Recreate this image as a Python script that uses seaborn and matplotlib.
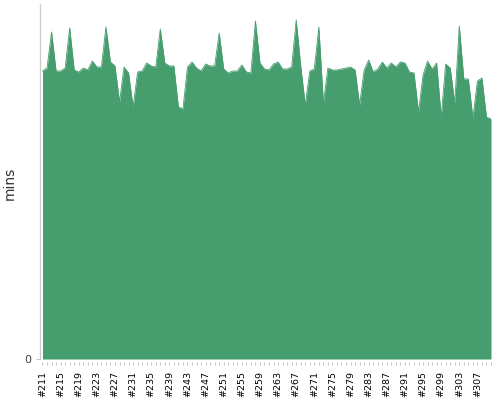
import numpy as np
import pandas as pd
import matplotlib
matplotlib.use('Agg')
import matplotlib.pyplot as plt
import seaborn as sns
from matplotlib.ticker import MultipleLocator

# build numbers and durations
builds = list(range(211, 311))
mins = [28.8, 29.1, 32.7, 28.8, 28.8, 29.1, 33.1, 28.9, 28.7, 29.1,
        28.9, 29.8, 29.2, 29.2, 33.2, 29.7, 29.3, 25.7, 29.2, 28.6,
        25.2, 28.7, 28.8, 29.6, 29.3, 29.2, 33.0, 29.6, 29.3, 29.3,
        25.2, 25.0, 29.2, 29.7, 29.1, 28.8, 29.5, 29.3, 29.3, 32.6,
        29.0, 28.6, 28.8, 28.8, 29.4, 28.7, 28.6, 33.8, 29.6, 29.0,
        28.9, 29.5, 29.7, 29.0, 29.0, 29.2, 33.9, 29.3, 25.4, 28.8,
        29.0, 33.2, 25.6, 29.1, 28.9, 28.9, 29.0, 29.1, 29.2, 28.9,
        25.4, 28.9, 29.9, 28.7, 29.0, 29.7, 29.1, 29.6, 29.2, 29.7,
        29.6, 28.7, 28.6, 24.7, 28.4, 29.8, 29.0, 29.6, 24.2, 29.5,
        29.1, 25.6, 33.3, 28.0, 28.0, 24.1, 27.8, 28.1, 24.2, 24.0]
label_builds = list(range(211, 311, 4))

df = pd.DataFrame({'build': builds, 'mins': mins})
green = '#469d6d'

sns.set_style('white')
plt.rcParams['font.family'] = ['DejaVu Sans']

fig = plt.figure(figsize=(5, 4), dpi=100)
ax = fig.add_axes([0.08, 0.095, 0.902, 0.895])

sns.lineplot(data=df, x='build', y='mins', color=green, lw=0.6, ax=ax)
ax.fill_between(df['build'], df['mins'], color=green, lw=0)

ax.set_xlim(210.45, 310)
ax.set_ylim(-0.3, 35.5)

ax.set_yticks([0])
ax.set_yticklabels(['0'], fontsize=8, color='#444444')
ax.set_ylabel('mins', fontsize=10, color='#333333', labelpad=6)
ax.set_xlabel('')

ax.set_xticks(label_builds)
ax.set_xticklabels(['#%d' % b for b in label_builds], rotation=90, fontsize=6.8, color='black')
ax.xaxis.set_minor_locator(MultipleLocator(1))
ax.tick_params(axis='x', which='both', length=2.5, width=0.6, color='#bbbbbb', pad=4, bottom=True)
ax.tick_params(axis='y', length=3, width=0.6, color='#bbbbbb', pad=3, left=True)

for s in ['top', 'right', 'bottom']:
    ax.spines[s].set_visible(False)
ax.spines['left'].set_color('#cccccc')
ax.spines['left'].set_linewidth(1)
ax.spines['left'].set_bounds(0, 35.5)

fig.savefig('out.png', dpi=100)
